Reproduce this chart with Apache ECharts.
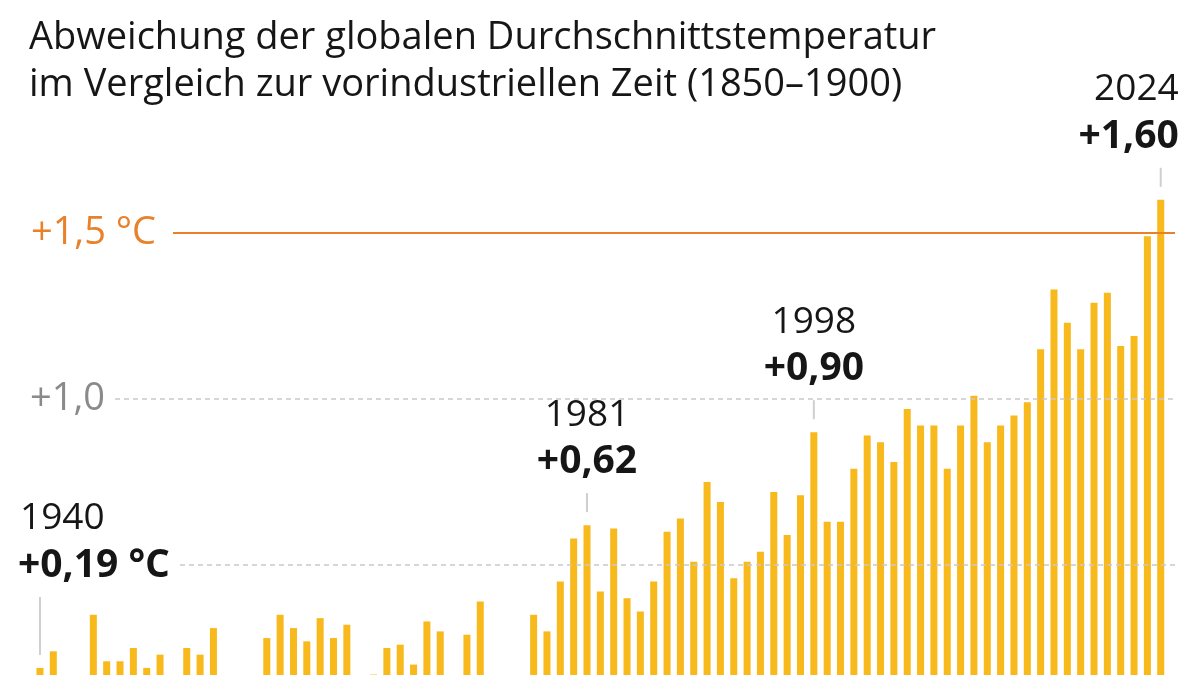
<!DOCTYPE html>
<html lang="de">
<head>
<meta charset="utf-8">
<title>Abweichung der globalen Durchschnittstemperatur</title>
<style>
  html, body { margin: 0; padding: 0; background: #fff; overflow: hidden; }
  #main { width: 1200px; height: 760px; }
</style>
</head>
<body>
<div id="main"></div>
<script src="https://cdn.jsdelivr.net/npm/echarts@6/dist/echarts.min.js"></script>
<script>
// Jahre 1940-2024
var years = [];
for (var y = 1940; y <= 2024; y++) years.push(String(y));

// Abweichung in °C gegenüber 1850-1900
var anomaly = [
  0.19, 0.24, 0.12, 0.14, 0.35, 0.21, 0.21, 0.25, 0.19, 0.23,   // 1940-49
  0.06, 0.25, 0.23, 0.31, 0.09, 0.08, 0.03, 0.28, 0.35, 0.31,   // 1950-59
  0.27, 0.34, 0.28, 0.32, 0.06, 0.17, 0.25, 0.26, 0.20, 0.33,   // 1960-69
  0.30, 0.14, 0.29, 0.39, 0.11, 0.15, 0.05, 0.35, 0.30, 0.45,   // 1970-79
  0.58, 0.62, 0.42, 0.61, 0.40, 0.36, 0.45, 0.60, 0.64, 0.51,   // 1980-89
  0.75, 0.69, 0.46, 0.51, 0.54, 0.72, 0.59, 0.71, 0.90, 0.63,   // 1990-99
  0.63, 0.79, 0.89, 0.87, 0.81, 0.97, 0.92, 0.92, 0.79, 0.92,   // 2000-09
  1.01, 0.87, 0.92, 0.95, 0.99, 1.15, 1.33, 1.23, 1.15, 1.29,   // 2010-19
  1.32, 1.16, 1.19, 1.49, 1.60                                  // 2020-24
];

// hervorgehobene Jahre
var highlightYears = ['1940', '1981', '1998', '2024'];
var gridValues = [0.5, 1.0];
var limitValue = 1.5;

var FONT = '"Open Sans", "Noto Sans", sans-serif';
var BAR = '#F7B91B';
var ORANGE = '#E8812A';
var TEXT = '#161616';

function fmt(v) {
  return '+' + v.toFixed(2).replace('.', ',');
}

var annoData = highlightYears.map(function (yr) {
  var i = years.indexOf(yr);
  return [i, anomaly[i]];
});

var myChart = echarts.init(document.getElementById('main'));

var option = {
  animation: false,
  title: {
    text: 'Abweichung der globalen Durchschnittstemperatur\nim Vergleich zur vorindustriellen Zeit (1850–1900)',
    left: 24,
    top: 10,
    textStyle: {
      fontFamily: FONT,
      fontSize: 38,
      fontWeight: 'normal',
      lineHeight: 47,
      color: TEXT
    }
  },
  // Die Grafik ist unten abgeschnitten: die Nulllinie liegt unterhalb des Bildrands
  grid: {
    left: 33.3,
    right: 32.6,
    top: 67,
    bottom: 29
  },
  xAxis: {
    type: 'category',
    data: years,
    show: false
  },
  yAxis: {
    type: 'value',
    min: 0,
    max: 2,
    show: false
  },
  series: [
    {
      // gestrichelte Hilfslinien hinter den Balken
      type: 'line',
      data: [],
      z: 1,
      silent: true,
      markLine: {
        symbol: ['none', 'none'],
        silent: true,
        animation: false,
        lineStyle: { color: '#c9c9c9', type: [5, 4], width: 1.5 },
        data: [
          [
            { xAxis: 0, yAxis: gridValues[1], x: 115,
              label: { show: true, position: 'start', distance: 10, formatter: '+1,0',
                       color: '#8a8a8a', fontFamily: FONT, fontSize: 38 } },
            { xAxis: 0, yAxis: gridValues[1], x: 1176 }
          ],
          [
            { xAxis: 0, yAxis: gridValues[0], x: 180, label: { show: false } },
            { xAxis: 0, yAxis: gridValues[0], x: 1176 }
          ]
        ]
      }
    },
    {
      type: 'bar',
      data: anomaly,
      barWidth: 7,
      z: 2,
      itemStyle: { color: BAR },
      markLine: {
        symbol: ['none', 'none'],
        silent: true,
        animation: false,
        lineStyle: { color: ORANGE, type: 'solid', width: 2 },
        data: [
          [
            { xAxis: 0, yAxis: limitValue, x: 173,
              label: { show: true, position: 'start', distance: 17, formatter: '+1,5 °C',
                       color: ORANGE, fontFamily: FONT, fontSize: 38 } },
            { xAxis: 0, yAxis: limitValue, x: 1175 }
          ]
        ]
      }
    },
    {
      // Beschriftungen mit Hinweisstrich
      type: 'custom',
      data: annoData,
      z: 3,
      silent: true,
      clip: false,
      renderItem: function (params, api) {
        var idx = api.value(0);
        var val = api.value(1);
        var p = api.coord([idx, val]);
        var yr = years[idx];
        var first = params.dataIndex === 0;
        var last = params.dataIndex === annoData.length - 1;
        var len = first ? 58 : 19;
        var lineBottom = p[1] - 13;
        var lineTop = lineBottom - len;
        var valY = lineTop - 31;
        var yrY = valY - 47;
        var align = 'center', tx = p[0];
        if (first) { align = 'left'; tx = p[0] - 22; }
        if (last) { align = 'right'; tx = p[0] + 18; }
        var valText = fmt(val) + (first ? ' °C' : '');
        return {
          type: 'group',
          children: [
            {
              type: 'line',
              shape: { x1: p[0], y1: lineTop, x2: p[0], y2: lineBottom },
              style: { stroke: '#cfcfcf', lineWidth: 2 }
            },
            {
              type: 'text',
              style: {
                text: yr, x: tx + (first ? 2 : 0), y: yrY,
                align: align, verticalAlign: 'middle',
                fontFamily: FONT, fontSize: 37, fontWeight: 'normal', fill: TEXT
              }
            },
            {
              type: 'text',
              style: {
                text: valText, x: tx, y: valY,
                align: align, verticalAlign: 'middle',
                fontFamily: FONT, fontSize: 39, fontWeight: 'bold', fill: TEXT
              }
            }
          ]
        };
      }
    }
  ]
};

myChart.setOption(option);
</script>
</body>
</html>
